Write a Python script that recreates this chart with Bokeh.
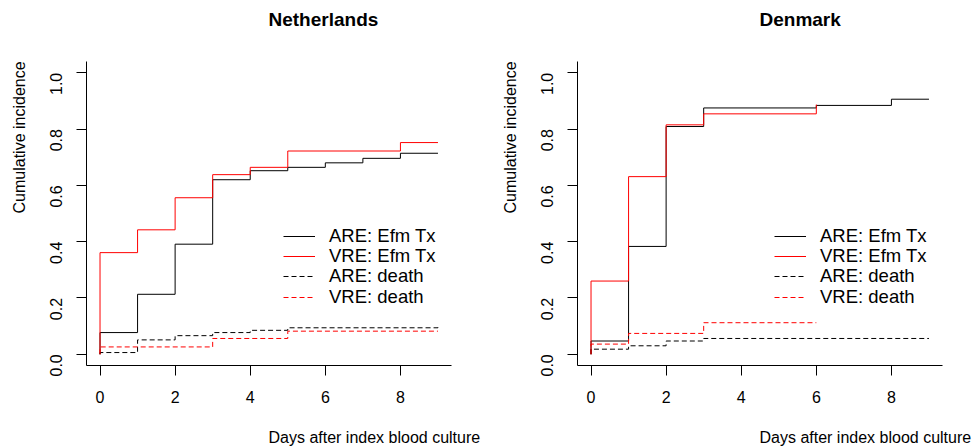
import math
from bokeh.plotting import figure
from bokeh.layouts import row
from bokeh.models import FixedTicker, Legend, LegendItem, Range1d, Title
from bokeh.embed import file_html
from bokeh.resources import INLINE

# Cumulative incidence step curves (days after index blood culture)
nl_are_tx_days = [0, 0, 1, 2, 3, 4, 5, 6, 7, 8, 9]
nl_are_tx_ci = [0, 0.077, 0.213, 0.391, 0.620, 0.652, 0.664, 0.680, 0.696, 0.714, 0.714]
nl_vre_tx_days = [0, 0, 1, 2, 3, 4, 5, 8, 9]
nl_vre_tx_ci = [0, 0.361, 0.442, 0.556, 0.638, 0.664, 0.722, 0.752, 0.752]
nl_are_death_days = [0, 0, 1, 2, 3, 4, 5, 9]
nl_are_death_ci = [0, 0.006, 0.051, 0.066, 0.077, 0.085, 0.094, 0.098]
nl_vre_death_days = [0, 0, 3, 5, 9]
nl_vre_death_ci = [0, 0.026, 0.056, 0.082, 0.082]

dk_are_tx_days = [0, 0, 1, 2, 3, 6, 8, 9]
dk_are_tx_ci = [0, 0.047, 0.383, 0.809, 0.875, 0.884, 0.906, 0.906]
dk_vre_tx_days = [0, 0, 1, 2, 3, 6]
dk_vre_tx_ci = [0, 0.260, 0.631, 0.815, 0.854, 0.887]
dk_are_death_days = [0, 0, 1, 2, 3, 9]
dk_are_death_ci = [0, 0.018, 0.030, 0.047, 0.056, 0.056]
dk_vre_death_days = [0, 0, 1, 3, 6]
dk_vre_death_ci = [0, 0.036, 0.074, 0.112, 0.112]

series_labels = ["ARE: Efm Tx", "VRE: Efm Tx", "ARE: death", "VRE: death"]
x_ticks = [0, 2, 4, 6, 8]
y_ticks = [0.0, 0.2, 0.4, 0.6, 0.8, 1.0]
y_tick_labels = ["0.0", "0.2", "0.4", "0.6", "0.8", "1.0"]

FONT = "Liberation Sans"
DASH = "5 3"
# pixel offset of each legend row from the bottom of the plotting region
LEGEND_ROWS = [118, 98, 78, 57]


def gap(size):
    # empty side panel used to push the next title away from the frame
    return Title(text=" ", text_font_size="1px", standoff=size)


def panel(title, curves, border_left, border_right):
    p = figure(width=489, height=446, output_backend="svg", toolbar_location=None,
               title=None,
               x_range=Range1d(-0.36, 9.36), y_range=Range1d(-0.04, 1.04),
               min_border_left=border_left, min_border_right=border_right,
               min_border_top=61, min_border_bottom=81)
    p.outline_line_color = None
    p.grid.visible = False
    p.background_fill_color = "white"
    p.border_fill_color = "white"

    for ax in (p.xaxis[0], p.yaxis[0]):
        ax.axis_line_color = "black"
        ax.axis_line_width = 1
        ax.major_tick_line_color = "black"
        ax.major_tick_out = 10
        ax.major_tick_in = 0
        ax.minor_tick_line_color = None
        ax.major_label_text_font = FONT
        ax.major_label_text_font_size = "16px"
        ax.major_label_text_color = "black"

    p.xaxis.ticker = FixedTicker(ticks=x_ticks)
    p.xaxis.major_label_standoff = 15
    p.yaxis.ticker = FixedTicker(ticks=y_ticks)
    p.yaxis.major_label_overrides = {t: s for t, s in zip(y_ticks, y_tick_labels)}
    p.yaxis.major_label_orientation = math.pi / 2
    p.yaxis.major_label_standoff = 20

    styles = [("black", "solid"), ("red", "solid"), ("black", DASH), ("red", DASH)]
    for (days, ci), (color, dash), lab, ypos in zip(curves, styles, series_labels, LEGEND_ROWS):
        r = p.step(days, ci, mode="after", line_color=color, line_width=1, line_dash=dash)
        # one single-row legend per series keeps the row pitch tight
        legend = Legend(items=[LegendItem(label=lab, renderers=[r])], location=(197, ypos),
                        glyph_width=32, glyph_height=20, label_height=20, label_standoff=14,
                        spacing=0, padding=0, margin=0,
                        border_line_color=None, background_fill_alpha=0)
        legend.label_text_font = FONT
        legend.label_text_font_size = "18.5px"
        legend.label_text_color = "black"
        p.add_layout(legend)

    # heading, left-aligned at the middle of the plotting region
    p.add_layout(gap(29), "above")
    p.add_layout(Title(text=title, align="left", offset=182, standoff=0,
                       text_font=FONT, text_font_size="19px", text_font_style="bold",
                       text_color="black"), "above")

    p.add_layout(gap(18), "below")
    p.add_layout(Title(text="Days after index blood culture", align="left", offset=182,
                       standoff=0, text_font=FONT, text_font_size="16px",
                       text_font_style="normal", text_color="black"), "below")

    p.add_layout(gap(11), "left")
    p.add_layout(Title(text="Cumulative incidence", align="left", offset=152,
                       standoff=0, text_font=FONT, text_font_size="16px",
                       text_font_style="normal", text_color="black"), "left")
    return p


nl = panel("Netherlands",
           [(nl_are_tx_days, nl_are_tx_ci), (nl_vre_tx_days, nl_vre_tx_ci),
            (nl_are_death_days, nl_are_death_ci), (nl_vre_death_days, nl_vre_death_ci)],
           86, 38)
dk = panel("Denmark",
           [(dk_are_tx_days, dk_are_tx_ci), (dk_vre_tx_days, dk_vre_tx_ci),
            (dk_are_death_days, dk_are_death_ci), (dk_vre_death_days, dk_vre_death_ci)],
           88, 36)

layout = row(nl, dk)
open("out.html", "w").write(file_html(layout, INLINE))
